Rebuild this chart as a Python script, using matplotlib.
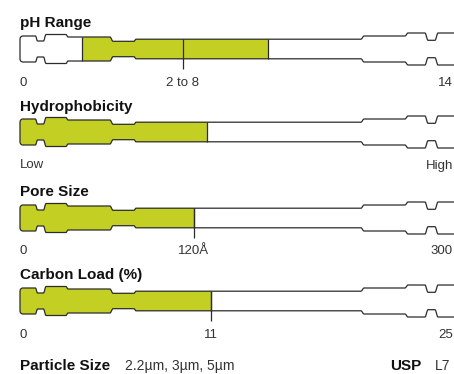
import numpy as np
import matplotlib
matplotlib.use("Agg")
import matplotlib.pyplot as plt
from matplotlib.patches import Polygon, Rectangle
from matplotlib import font_manager

# ---- chart content -------------------------------------------------------
titles = ["pH Range", "Hydrophobicity", "Pore Size", "Carbon Load (%)"]
scale_min = [0, 0, 0, 0]
scale_max = [14, 1, 300, 25]
fill_start = [2, 0, 0, 0]
fill_end = [8, 0.43, 120, 11]
low_labels = ["0", "Low", "0", "0"]
high_labels = ["14", "High", "300", "25"]
mid_labels = ["2 to 8", None, "120Å", "11"]
mid_positions = [5.25, None, 120, 11]
particle_label = "Particle Size"
particle_sizes = "2.2µm, 3µm, 5µm"
usp_label = "USP"
usp_class = "L7"

# ---- styling -------------------------------------------------------------
W, H = 454, 374
LEFT, SPAN = 20, 434            # pixel position of scale minimum and width of scale
centers = [49, 132, 218, 301]   # vertical centre of each column (px from top)
GREEN = "#c4cf24"
EDGE = "#2b2b2b"
TEXT = "#111111"
LABEL = "#333333"

installed = {f.name for f in font_manager.fontManager.ttflist}
narrow = "Liberation Sans Narrow" if "Liberation Sans Narrow" in installed else "Liberation Sans"
FAMILY = [narrow, "DejaVu Sans"]
plt.rcParams["font.family"] = FAMILY

# column silhouette: (start of step, end of step, new half-height) in px
steps = [(15.5, 17.5, 8.0), (23.5, 26.0, 14.5), (46.0, 48.0, 12.0),
         (90.0, 93.0, 7.7), (114.0, 116.0, 9.8), (341.0, 344.0, 13.0),
         (385.0, 388.0, 16.0), (405.0, 408.0, 8.7), (415.0, 418.0, 16.0)]
first_half = 13.0
BODY_HALF = 9.8


def half_height(xp):
    h = np.full_like(xp, first_half, dtype=float)
    for a, b, new in steps:
        t = np.clip((xp - a) / (b - a), 0, 1)
        s = t * t * (3 - 2 * t)
        h = h + (new - h) * np.where(xp >= a, s, 0)
    # rounded left end
    r = 3.0
    m = xp < r
    h[m] = (first_half - r) + np.sqrt(np.clip(r ** 2 - (r - xp[m]) ** 2, 0, None))
    return h


def px_to_fig(x, y):
    return x / W, 1 - y / H


fig = plt.figure(figsize=(W / 100, H / 100), dpi=100)
fig.patch.set_facecolor("white")

xp = np.linspace(0, 460, 1841)
hp = half_height(xp)

for i, title in enumerate(titles):
    cy = centers[i]
    vmin, vmax = scale_min[i], scale_max[i]
    ax = fig.add_axes([LEFT / W, (H - cy - 25) / H, SPAN / W, 50 / H])
    ax.set_xlim(vmin, vmax)
    ax.set_ylim(-25, 25)
    ax.axis("off")

    xd = vmin + xp * (vmax - vmin) / SPAN
    outline = np.column_stack([np.r_[xd, xd[::-1]], np.r_[hp, -hp[::-1]]])

    body = Polygon(outline, closed=True, facecolor="white", edgecolor="none",
                   clip_on=False, zorder=1)
    ax.add_patch(body)

    fill = Polygon(outline, closed=True, facecolor=GREEN, edgecolor="none",
                   clip_on=True, zorder=2)
    ax.add_patch(fill)
    clip = Rectangle((fill_start[i], -30), fill_end[i] - fill_start[i], 60,
                     transform=ax.transData, visible=False)
    ax.add_patch(clip)
    fill.set_clip_path(clip)

    edge = Polygon(outline, closed=True, facecolor="none", edgecolor=EDGE,
                   lw=0.9, joinstyle="round", clip_on=False, zorder=4)
    ax.add_patch(edge)

    # vertical boundaries of the filled band
    for v in (fill_start[i], fill_end[i]):
        if v <= vmin:
            continue
        xpix = (v - vmin) / (vmax - vmin) * SPAN
        h = float(half_height(np.array([xpix]))[0])
        ax.plot([v, v], [-h, h], color=EDGE, lw=0.9, zorder=5,
                solid_capstyle="butt")

    # tick marking the labelled value
    if mid_positions[i] is not None:
        v = mid_positions[i]
        ax.plot([v, v], [BODY_HALF, -BODY_HALF - 10], color=EDGE, lw=0.9,
                zorder=5, solid_capstyle="butt", clip_on=False)

    # title
    tx, ty = px_to_fig(LEFT, cy - 21.5)
    fig.text(tx, ty, title, fontsize=11, fontweight="bold", color=TEXT,
             ha="left", va="baseline", family=FAMILY)

    # scale labels
    ly = cy + 36.5
    fig.text(*px_to_fig(LEFT, ly), low_labels[i], fontsize=9.5, color=LABEL,
             ha="left", va="baseline", family=FAMILY)
    fig.text(*px_to_fig(453, ly), high_labels[i], fontsize=9.5, color=LABEL,
             ha="right", va="baseline", family=FAMILY)
    if mid_labels[i]:
        xm = LEFT + (mid_positions[i] - vmin) / (vmax - vmin) * SPAN
        fig.text(*px_to_fig(xm, ly), mid_labels[i], fontsize=9.5, color=LABEL,
                 ha="center", va="baseline", family=FAMILY)

# footer
fy = 370
fig.text(*px_to_fig(LEFT, fy), particle_label, fontsize=11, fontweight="bold",
         color=TEXT, ha="left", va="baseline", family=FAMILY)
fig.text(*px_to_fig(125, fy), particle_sizes, fontsize=10, color=LABEL,
         ha="left", va="baseline", family=FAMILY)
fig.text(*px_to_fig(390, fy), usp_label, fontsize=11, fontweight="bold",
         color=TEXT, ha="left", va="baseline", family=FAMILY)
fig.text(*px_to_fig(435, fy), usp_class, fontsize=10, color=LABEL,
         ha="left", va="baseline", family=FAMILY)

fig.savefig("out.png", dpi=100, facecolor="white")
